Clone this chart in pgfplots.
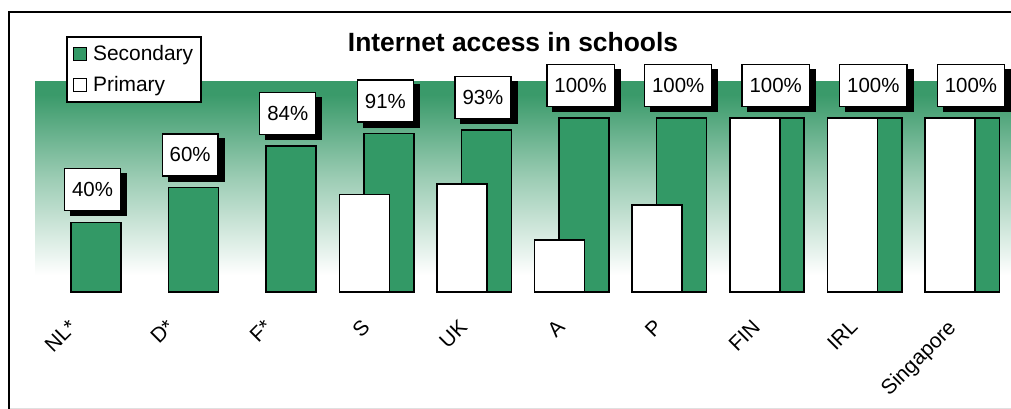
\documentclass[border=0pt]{standalone}
\usepackage{pgfplots}
\pgfplotsset{compat=1.18}
\usetikzlibrary{shadows}
\usepackage{fontspec}
\setmainfont{Liberation Sans}
\definecolor{sgreen}{HTML}{339966}
\definecolor{bandgreen}{HTML}{3A9A6A}
% path box is mapped onto 25bp..75bp
\pgfdeclareverticalshading{band}{100bp}{color(0bp)=(white); color(29bp)=(white); color(52bp)=(bandgreen!50!white); color(72bp)=(bandgreen); color(100bp)=(bandgreen)}

\begin{document}
\begin{tikzpicture}
\useasboundingbox (0,0) rectangle (1011bp,409bp);
\draw[black!12, line width=1bp] (9bp,0.5bp) -- (1011bp,0.5bp);
\draw[line width=2.2bp] (9bp,-30bp) rectangle (1040bp,397bp);
\node[font=\fontsize{26.5}{30}\selectfont\bfseries, anchor=base] at (513bp,357bp) {Internet access in schools};
\begin{axis}[
    at={(35bp,117bp)}, anchor=south west,
    scale only axis, width=976bp, height=210bp,
    xmin=-0.5, xmax=9.5, ymin=0, ymax=120.7,
    clip=false,
    axis line style={draw=none},
    axis background/.style={shading=band},
    ytick=\empty,
    xtick={0,...,9},
    xticklabels={NL*,D*,F*,S,UK,A,P,FIN,IRL,Singapore},
    major tick length=0pt,
    xticklabel style={xshift=-16bp, yshift=-26bp, rotate=45, anchor=north east, inner sep=0pt,
        font=\fontsize{21}{24}\selectfont},
    legend style={at={(0.0318,1.219)}, anchor=north west, draw=black, line width=1.5bp,
        fill=white, inner xsep=6bp, inner ysep=7bp, row sep=10bp,
        font=\fontsize{21}{25}\selectfont, cells={anchor=west},
        /tikz/every odd column/.append style={column sep=4bp}},
]
\addplot[ybar, bar width=50bp, bar shift=12.25bp, fill=sgreen, draw=black, line width=1.6bp,
    legend image code/.code={\draw[fill=sgreen, draw=black, line width=1.3bp] (0bp,-6.5bp) rectangle (13bp,6.5bp);},
    nodes near coords={\pgfmathprintnumber[assume math mode=true]{\pgfplotspointmeta}\%},
    every node near coord/.append style={font=\fontsize{20.5}{24}\selectfont, text=black,
        draw=black, line width=1.3bp, fill=white, inner xsep=7.5bp, inner ysep=0pt,
        minimum height=42bp, anchor=south, xshift=8.75bp, yshift=11bp,
        drop shadow={shadow xshift=6bp, shadow yshift=-5bp, opacity=1, fill=black}}]
coordinates {(0,40) (1,60) (2,84) (3,91) (4,93) (5,100) (6,100) (7,100) (8,100) (9,100)};
\addlegendentry{Secondary}
\addplot[ybar, bar width=50bp, bar shift=-12.25bp, fill=white, draw=black, line width=1.6bp,
    legend image code/.code={\draw[fill=white, draw=black, line width=1.3bp] (0bp,-6.5bp) rectangle (13bp,6.5bp);}]
coordinates {(3,56) (4,62) (5,30) (6,50) (7,100) (8,100) (9,100)};
\addlegendentry{Primary}
\end{axis}
\end{tikzpicture}
\end{document}
